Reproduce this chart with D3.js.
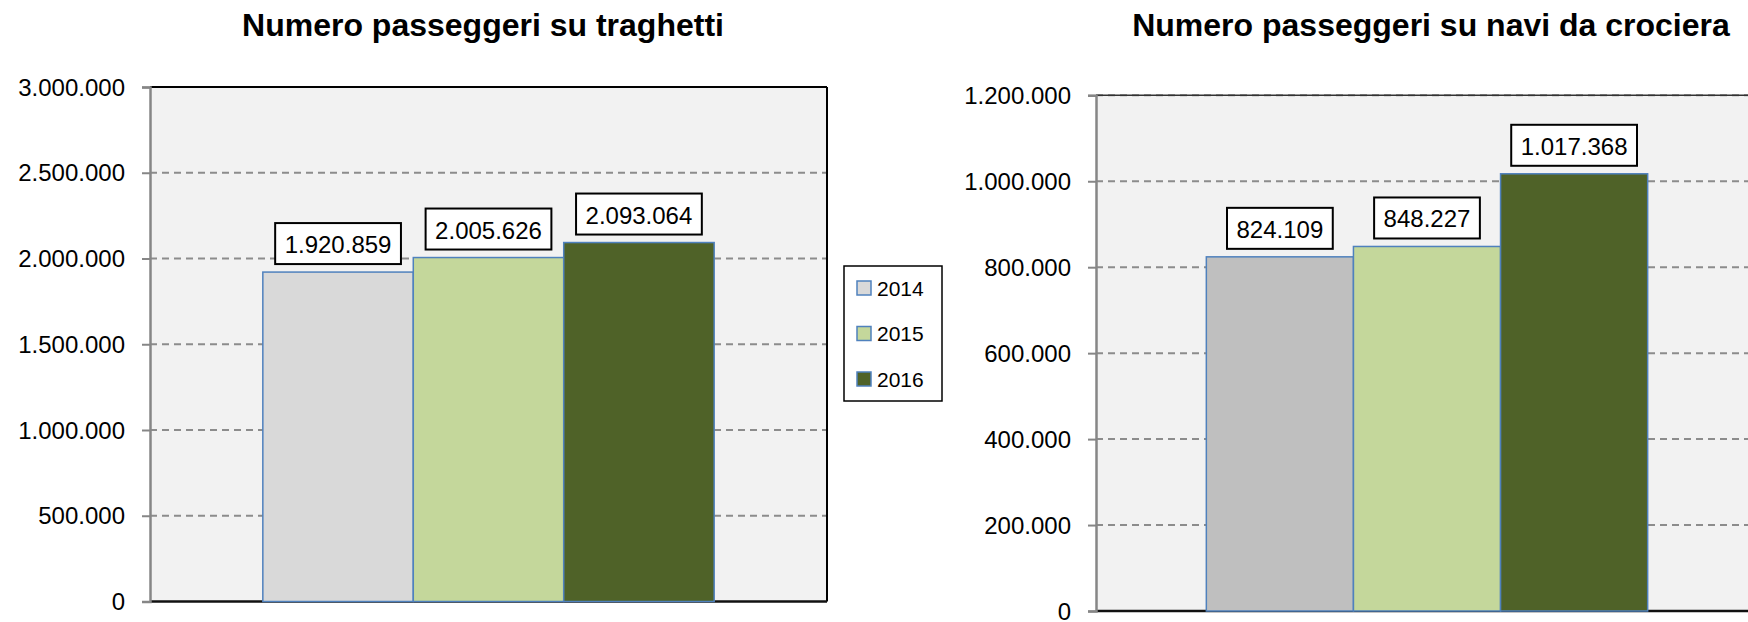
<!DOCTYPE html>
<html>
<head>
<meta charset="utf-8">
<script src="https://cdn.jsdelivr.net/npm/d3@7"></script>
<style>
  html, body { margin: 0; padding: 0; background: #ffffff; }
  svg { display: block; }
  text { font-family: "Liberation Sans", Arial, sans-serif; fill: #000; }
</style>
</head>
<body>
<svg id="chart" width="1748" height="622"></svg>
<script>
// ---- DATA ----
const years = ["2014", "2015", "2016"];
const category = ["Passeggeri"];
const traghettiValues = [1920859, 2005626, 2093064];
const crocieraValues = [824109, 848227, 1017368];
const traghettiTicks = [0, 500000, 1000000, 1500000, 2000000, 2500000, 3000000];
const crocieraTicks = [0, 200000, 400000, 600000, 800000, 1000000, 1200000];
const traghettiTitle = "Numero passeggeri su traghetti";
const crocieraTitle = "Numero passeggeri su navi da crociera";
const traghettiColors = ["#D9D9D9", "#C4D79B", "#4F6228"];
const crocieraColors = ["#BFBFBF", "#C4D79B", "#4F6228"];
const legendColors = ["#D9D9D9", "#C4D79B", "#4F6228"];

// ---- FORMAT (Italian) ----
const itLocale = d3.formatLocale({ decimal: ",", thousands: ".", grouping: [3], currency: ["", " €"] });
const fmt = itLocale.format(",d");

const svg = d3.select("#chart");

function drawChart(cfg) {
  const g = svg.append("g");
  const x0 = d3.scaleBand().domain(category).range([cfg.left, cfg.right])
    .paddingInner(1 / 3).paddingOuter(1 / 6);
  const x1 = d3.scaleBand().domain(years).range([0, x0.bandwidth()]).padding(0);
  const y = d3.scaleLinear().domain([0, cfg.ticks[cfg.ticks.length - 1]]).range([cfg.bottom, cfg.top]);

  // title
  g.append("text")
    .attr("x", cfg.titleX).attr("y", 36)
    .attr("text-anchor", "middle")
    .style("font-size", "32px").style("font-weight", "bold")
    .text(cfg.title);

  // plot background
  g.append("rect")
    .attr("x", cfg.left).attr("y", cfg.top)
    .attr("width", cfg.right - cfg.left).attr("height", cfg.bottom - cfg.top)
    .attr("fill", "#F2F2F2");

  // gridlines
  g.append("g").selectAll("line")
    .data(cfg.ticks.filter(t => t > 0))
    .join("line")
    .attr("x1", cfg.left).attr("x2", cfg.right)
    .attr("y1", d => y(d)).attr("y2", d => y(d))
    .attr("stroke", "#8C8C8C").attr("stroke-width", 2)
    .attr("stroke-dasharray", "7,5");

  // top border
  g.append("line")
    .attr("x1", cfg.left).attr("x2", cfg.right)
    .attr("y1", cfg.top).attr("y2", cfg.top)
    .attr("stroke", cfg.topColor).attr("stroke-width", cfg.topWidth);
  // right border
  g.append("line")
    .attr("x1", cfg.right).attr("x2", cfg.right)
    .attr("y1", cfg.top).attr("y2", cfg.bottom)
    .attr("stroke", "#000").attr("stroke-width", 2);

  // bottom axis line
  g.append("line")
    .attr("x1", cfg.left).attr("x2", cfg.right)
    .attr("y1", y(0)).attr("y2", y(0))
    .attr("stroke", "#111").attr("stroke-width", 2.5);

  // y axis
  const yAxis = d3.axisLeft(y).tickValues(cfg.ticks).tickFormat(fmt).tickSize(8).tickPadding(17);
  const ax = g.append("g").attr("transform", `translate(${cfg.left},0)`).call(yAxis);
  ax.select(".domain").attr("stroke", "#868686").attr("stroke-width", 2.5);
  ax.selectAll(".tick line").attr("stroke", "#868686").attr("stroke-width", 2);
  ax.selectAll(".tick text")
    .attr("dy", null).attr("y", 8)
    .style("font-size", "24px")
    .style("font-family", '"Liberation Sans", Arial, sans-serif')
    .attr("fill", "#000");

  // bars
  const barsG = g.append("g").attr("transform", `translate(${x0(category[0])},0)`);
  const data = years.map((yr, i) => ({ yr, v: cfg.values[i], c: cfg.colors[i] }));
  barsG.selectAll("rect")
    .data(data)
    .join("rect")
    .attr("x", d => x1(d.yr))
    .attr("y", d => y(d.v))
    .attr("width", x1.bandwidth())
    .attr("height", d => y(0) - y(d.v))
    .attr("fill", d => d.c)
    .attr("stroke", "#4F81BD").attr("stroke-width", 1.5);

  // data labels
  data.forEach(d => {
    const cx = x0(category[0]) + x1(d.yr) + x1.bandwidth() / 2;
    const boxBottom = y(d.v) - 8;
    const lg = g.append("g");
    const rect = lg.append("rect");
    const t = lg.append("text")
      .attr("x", cx).attr("y", boxBottom - 11)
      .attr("text-anchor", "middle")
      .style("font-size", "24px")
      .text(fmt(d.v));
    const w = t.node().getComputedTextLength() + 19;
    rect.attr("x", cx - w / 2).attr("y", boxBottom - 41)
      .attr("width", w).attr("height", 41)
      .attr("fill", "#fff").attr("stroke", "#000").attr("stroke-width", 2);
  });
}

drawChart({
  title: traghettiTitle, titleX: 483,
  left: 150, right: 827, top: 87, bottom: 601.5,
  ticks: traghettiTicks, values: traghettiValues, colors: traghettiColors,
  topColor: "#000", topWidth: 2
});

drawChart({
  title: crocieraTitle, titleX: 1431,
  left: 1096, right: 1758, top: 95.3, bottom: 611,
  ticks: crocieraTicks, values: crocieraValues, colors: crocieraColors,
  topColor: "#333", topWidth: 1.5
});

// legend
const leg = svg.append("g");
leg.append("rect")
  .attr("x", 844).attr("y", 266).attr("width", 98).attr("height", 135)
  .attr("fill", "#fff").attr("stroke", "#000").attr("stroke-width", 1.5);
const ly = d3.scalePoint().domain(years).range([288, 379]);
years.forEach((yr, i) => {
  leg.append("rect")
    .attr("x", 857).attr("y", ly(yr) - 7).attr("width", 14).attr("height", 14)
    .attr("fill", legendColors[i]).attr("stroke", "#4F81BD").attr("stroke-width", 1.5);
  leg.append("text")
    .attr("x", 877).attr("y", ly(yr) + 7.5)
    .style("font-size", "21px")
    .text(yr);
});
</script>
</body>
</html>
